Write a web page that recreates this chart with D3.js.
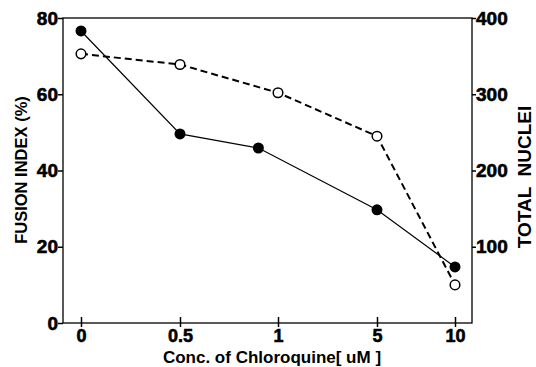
<!DOCTYPE html>
<html><head><meta charset="utf-8">
<script src="https://cdn.jsdelivr.net/npm/d3@7"></script>
<style>body{margin:0;background:#fff}svg{display:block}text{font-family:"Liberation Sans",Arial,sans-serif;font-weight:bold;fill:#000}</style>
</head><body>
<svg id="c" width="536" height="367"></svg>
<script>
const xTicks = [0, 0.5, 1, 5, 10];
const xTickLabels = ["0", "0.5", "1", "5", "10"];
const fusionConc = [0, 0.5, 0.9, 5, 10];
const fusionIndex = [76.6, 49.6, 45.9, 29.7, 14.7];
const nucleiConc = [0, 0.5, 1, 5, 10];
const totalNuclei = [353, 339, 302, 245, 50];
const leftTicks = [0, 20, 40, 60, 80];
const rightTicks = [100, 200, 300, 400];

const svg = d3.select("#c");
const L = 63, R = 472, T = 18, B = 323;
const x = d3.scaleLinear().domain(xTicks).range([81, 180, 278, 377, 455]);
const yL = d3.scaleLinear().domain([0, 80]).range([B, T]);
const yR = d3.scaleLinear().domain([0, 400]).range([B, T]);
const ff = '"Liberation Sans",Arial,sans-serif';

function styleTickText(sel, size) {
  sel.style("font-size", size).style("font-family", ff).style("font-weight", "bold")
    .attr("fill", "#000").attr("stroke", "#000").attr("stroke-width", 0.6);
}

// frame
svg.append("rect").attr("x", L).attr("y", T).attr("width", R - L).attr("height", B - T)
  .attr("fill", "none").attr("stroke", "#000").attr("stroke-width", 1.3);

// left axis
const gl = svg.append("g").attr("transform", `translate(${L},0)`)
  .call(d3.axisLeft(yL).tickValues(leftTicks).tickSize(5).tickPadding(0));
gl.select(".domain").remove();
gl.selectAll("line").attr("stroke-width", 1.5);
styleTickText(gl.selectAll("text"), "19px");

// right axis
const gr = svg.append("g").attr("transform", `translate(${R},0)`)
  .call(d3.axisRight(yR).tickValues(rightTicks).tickSize(4).tickPadding(0));
gr.select(".domain").remove();
gr.selectAll("line").attr("stroke-width", 1.5);
styleTickText(gr.selectAll("text"), "19px");

// bottom axis
const gb = svg.append("g").attr("transform", `translate(0,${B})`)
  .call(d3.axisBottom(x).tickValues(xTicks).tickFormat((d, i) => xTickLabels[i]).tickSize(3).tickPadding(3));
gb.select(".domain").remove();
gb.selectAll(".tick line").attr("y1", -6).attr("y2", 4).attr("stroke-width", 1.5);
styleTickText(gb.selectAll("text"), "18px");

// titles
svg.append("text").attr("transform", "translate(27,170) rotate(-90)").attr("text-anchor", "middle")
  .style("font-size", "16.5px").text("FUSION INDEX (%)");
svg.append("text").attr("transform", "translate(531,177) rotate(-90)").attr("text-anchor", "middle")
  .style("font-size", "19px").style("white-space", "pre").text("TOTAL  NUCLEI");
svg.append("text").attr("x", 272).attr("y", 363).attr("text-anchor", "middle")
  .style("font-size", "17px").text("Conc. of Chloroquine[ uM ]");

// lines
const nData = nucleiConc.map((c, i) => [c, totalNuclei[i]]);
const fData = fusionConc.map((c, i) => [c, fusionIndex[i]]);
svg.append("path").datum(nData).attr("fill", "none").attr("stroke", "#000").attr("stroke-width", 2)
  .attr("stroke-dasharray", "7,4")
  .attr("d", d3.line().x(d => x(d[0])).y(d => yR(d[1])));
svg.append("path").datum(fData).attr("fill", "none").attr("stroke", "#000").attr("stroke-width", 1.2)
  .attr("d", d3.line().x(d => x(d[0])).y(d => yL(d[1])));

svg.selectAll(".op").data(nData).enter().append("circle")
  .attr("cx", d => x(d[0])).attr("cy", d => yR(d[1])).attr("r", 4.8)
  .attr("fill", "#fff").attr("stroke", "#000").attr("stroke-width", 1.5);
svg.selectAll(".fp").data(fData).enter().append("circle")
  .attr("cx", d => x(d[0])).attr("cy", d => yL(d[1])).attr("r", 5.5)
  .attr("fill", "#000");
</script>
</body></html>
